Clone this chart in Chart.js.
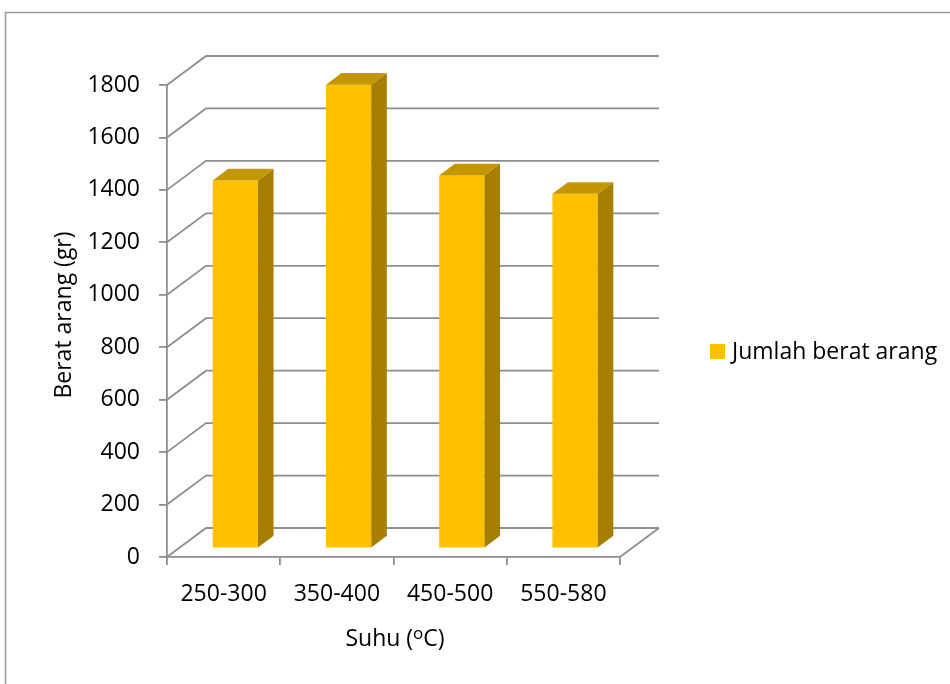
<!DOCTYPE html>
<html>
<head>
<meta charset="utf-8">
<script src="https://cdn.jsdelivr.net/npm/chart.js@4.4.1/dist/chart.umd.min.js"></script>
<style>
  html, body { margin: 0; padding: 0; background: #fff; }
  canvas { display: block; }
</style>
</head>
<body>
<canvas id="chart" width="950" height="684"></canvas>
<script>
// ---- data ----------------------------------------------------------------
const categories = ["250-300", "350-400", "450-500", "550-580"];
const beratArang = [1403, 1768, 1422, 1352];
const seriesName = "Jumlah berat arang";
const yTitle = "Berat arang (gr)";
const yMin = 0, yMax = 1800, yStep = 200;

// ---- style ---------------------------------------------------------------
const FONT = "'Open Sans', sans-serif";
const FS = 23;
const GRID = "#8e8e8e";
const BAR_FRONT = "#FFC000";
const BAR_TOP = "#C49600";
const BAR_SIDE = "#A67E00";
// depth vector of the floor (front edge -> back wall)
const DX = 39, DY = -29;
const BAR_Z0 = 0.3, BAR_DEPTH = 0.4;

function line(ctx, pts) {
  ctx.beginPath();
  ctx.moveTo(pts[0][0], pts[0][1]);
  for (let i = 1; i < pts.length; i++) ctx.lineTo(pts[i][0], pts[i][1]);
  ctx.stroke();
}
function poly(ctx, pts, fill) {
  ctx.beginPath();
  ctx.moveTo(pts[0][0], pts[0][1]);
  for (let i = 1; i < pts.length; i++) ctx.lineTo(pts[i][0], pts[i][1]);
  ctx.closePath();
  ctx.fillStyle = fill;
  ctx.fill();
}

// ---- 3D walls, bars, titles, legend --------------------------------------
const bar3d = {
  id: "bar3d",
  beforeDraw(chart) {
    const ctx = chart.ctx;
    ctx.save();
    ctx.strokeStyle = "#9a9a9a";
    ctx.lineWidth = 1.5;
    line(ctx, [[5.5, 684], [5.5, 12.5], [950, 12.5]]);
    ctx.restore();
  },
  beforeDatasetsDraw(chart) {
    const ctx = chart.ctx;
    const { left, right, bottom } = chart.chartArea;
    const ys = chart.scales.y;
    ctx.save();
    ctx.strokeStyle = GRID;
    ctx.lineWidth = 1.8;
    for (let v = yMin; v <= yMax; v += yStep) {
      const y = ys.getPixelForValue(v);
      line(ctx, [[left, y], [left + DX, y + DY], [right + DX, y + DY]]);
    }
    line(ctx, [[right, bottom], [right + DX, bottom + DY]]);

    // bars as boxes sitting in the middle of the floor depth
    const meta = chart.getDatasetMeta(0);
    const ox = BAR_Z0 * DX, oy = BAR_Z0 * DY;
    const dx = BAR_DEPTH * DX, dy = BAR_DEPTH * DY;
    meta.data.forEach((bar) => {
      const L = bar.x - bar.width / 2 + ox;
      const R = bar.x + bar.width / 2 + ox;
      const T = bar.y + oy;
      const B = bar.base + oy;
      poly(ctx, [[L, T], [R, T], [R, B], [L, B]], BAR_FRONT);
      poly(ctx, [[R, T], [R + dx, T + dy], [R + dx, B + dy], [R, B]], BAR_SIDE);
      poly(ctx, [[L, T], [L + dx, T + dy], [R + dx, T + dy], [R, T]], BAR_TOP);
    });
    ctx.restore();
    return false;
  },
  afterDraw(chart) {
    const ctx = chart.ctx;
    const f = (s) => s + "px " + FONT;
    ctx.save();
    ctx.fillStyle = "#000";
    ctx.font = f(FS);

    // y axis title
    ctx.save();
    ctx.translate(71, 315);
    ctx.rotate(-Math.PI / 2);
    ctx.textAlign = "center";
    ctx.textBaseline = "alphabetic";
    ctx.fillText(yTitle, 0, 0);
    ctx.restore();

    // x axis title with superscript degree "o"
    const a = "Suhu (", b = "C)";
    ctx.font = f(FS);
    const wa = ctx.measureText(a).width, wb = ctx.measureText(b).width;
    ctx.font = f(17);
    const wo = ctx.measureText("o").width;
    let x = 395 - (wa + wo + wb) / 2;
    const base = 646;
    ctx.textAlign = "left";
    ctx.font = f(FS);
    ctx.fillText(a, x, base);
    x += wa;
    ctx.font = f(17);
    ctx.fillText("o", x, base - 7);
    x += wo;
    ctx.font = f(FS);
    ctx.fillText(b, x, base);

    // legend
    ctx.fillStyle = BAR_FRONT;
    ctx.fillRect(710, 344, 15, 15);
    ctx.fillStyle = "#000";
    ctx.font = f(FS);
    ctx.fillText(chart.data.datasets[0].label, 732, 359);
    ctx.restore();
  }
};

new Chart(document.getElementById("chart"), {
  type: "bar",
  data: {
    labels: categories,
    datasets: [{
      label: seriesName,
      data: beratArang,
      backgroundColor: BAR_FRONT,
      barPercentage: 0.4,
      categoryPercentage: 1.0
    }]
  },
  options: {
    responsive: false,
    animation: false,
    devicePixelRatio: 1,
    layout: { padding: { top: 85, right: 330, left: 0, bottom: 0 } },
    plugins: { legend: { display: false }, tooltip: { enabled: false } },
    scales: {
      x: {
        offset: true,
        grid: { offset: true, drawOnChartArea: false, drawTicks: true, tickLength: 8, color: GRID, lineWidth: 1.8 },
        border: { display: true, color: GRID, width: 1.8 },
        ticks: { color: "#000", font: { family: FONT, size: FS }, padding: 16, maxRotation: 0 },
        afterFit(scale) { scale.height = 684 - 557; }
      },
      y: {
        min: yMin,
        max: yMax,
        grid: { drawOnChartArea: false, drawTicks: true, tickLength: 8, color: GRID, lineWidth: 1.8 },
        border: { display: true, color: GRID, width: 1.8 },
        ticks: {
          stepSize: yStep, color: "#000", font: { family: FONT, size: FS }, padding: 19,
          callback: (v) => String(v)
        },
        afterFit(scale) { scale.width = 167; }
      }
    }
  },
  plugins: [bar3d]
});
</script>
</body>
</html>
